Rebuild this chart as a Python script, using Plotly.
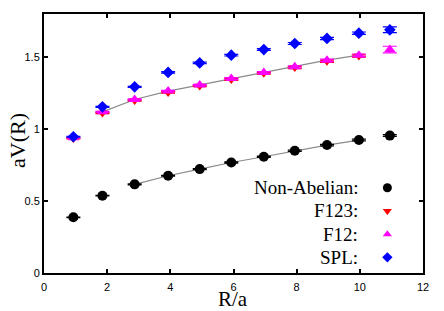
import plotly.graph_objects as go

# ---- data ----
R = [0.93, 1.85, 2.87, 3.93, 4.93, 5.93, 6.96, 7.94, 8.96, 9.97, 10.95]
V_nonabelian = [0.387, 0.537, 0.616, 0.676, 0.722, 0.768, 0.808, 0.850, 0.889, 0.924, 0.955]
V_F123 = [0.935, 1.112, 1.198, 1.255, 1.300, 1.345, 1.388, 1.428, 1.472, 1.508]
V_F12 = [0.940, 1.120, 1.206, 1.264, 1.306, 1.352, 1.394, 1.433, 1.479, 1.514, 1.553]
V_SPL = [0.947, 1.155, 1.294, 1.394, 1.460, 1.514, 1.553, 1.595, 1.630, 1.667, 1.690]
err_nonabelian = [0.002, 0.002, 0.003, 0.003, 0.003, 0.004, 0.004, 0.005, 0.005, 0.006, 0.006]
err_F123 = [0.003, 0.004, 0.004, 0.005, 0.005, 0.006, 0.006, 0.007, 0.008, 0.008]
err_F12 = [0.003, 0.004, 0.004, 0.005, 0.005, 0.006, 0.006, 0.007, 0.008, 0.008, 0.023]
err_SPL = [0.003, 0.004, 0.004, 0.005, 0.005, 0.006, 0.006, 0.007, 0.008, 0.008, 0.020]
fit_nonabelian_range = (2, 10)   # indices of points covered by the fit curve
fit_F12_range = (1, 10)
legend_names = ["Non-Abelian:", "F123:", "F12:", "SPL:"]
x_ticks = [0, 2, 4, 6, 8, 10, 12]
y_ticks = [0, 0.5, 1, 1.5]

SERIF = "Liberation Serif"
SANS = "Liberation Sans"
GRAY = "#8a8a8a"

styles = [
    dict(color="black", symbol="circle", size=10, key=9),
    dict(color="#ff0000", symbol="triangle-down", size=9, key=8),
    dict(color="#ff00ff", symbol="triangle-up", size=10, key=8),
    dict(color="#0000ff", symbol="diamond", size=9, key=8),
]

fig = go.Figure()

# fit curves (gray lines)
a, b = fit_nonabelian_range
fig.add_trace(go.Scatter(x=R[a:b], y=V_nonabelian[a:b], mode="lines",
                         line=dict(color=GRAY, width=1.2), showlegend=False, hoverinfo="skip"))
a, b = fit_F12_range
fig.add_trace(go.Scatter(x=R[a:b], y=V_F12[a:b], mode="lines",
                         line=dict(color=GRAY, width=1.2), showlegend=False, hoverinfo="skip"))

series = [(V_nonabelian, err_nonabelian), (V_F123, err_F123), (V_F12, err_F12), (V_SPL, err_SPL)]
for (vals, errs), st in zip(series, styles):
    fig.add_trace(go.Scatter(
        x=R[:len(vals)], y=vals, mode="markers",
        marker=dict(color=st["color"], symbol=st["symbol"], size=st["size"], line=dict(width=0)),
        error_y=dict(type="data", array=errs, color=st["color"], thickness=1.2, width=7),
        showlegend=False))

# custom legend: text on the left, symbol on the right
row_top = 0.329
row_step = 0.0895
key_x = 0.906
for i, (name, st) in enumerate(zip(legend_names, styles)):
    yy = row_top - i * row_step
    fig.add_trace(go.Scatter(x=[key_x], y=[yy], xaxis="x2", yaxis="y2", mode="markers",
                             marker=dict(color=st["color"], symbol=st["symbol"],
                                         size=st["key"], line=dict(width=0)),
                             showlegend=False, hoverinfo="skip"))
    fig.add_annotation(x=0.833, y=yy, xref="paper", yref="paper", text=name,
                       showarrow=False, xanchor="right", yanchor="middle",
                       font=dict(family=SERIF, size=19, color="black"))

# axis titles
fig.add_annotation(x=0, y=0.51, xref="paper", yref="paper", text="aV(R)", textangle=-90,
                   showarrow=False, xanchor="center", yanchor="middle", xshift=-26,
                   font=dict(family=SERIF, size=22, color="black"))
fig.add_annotation(x=0.498, y=0, xref="paper", yref="paper", text="R/a",
                   showarrow=False, xanchor="center", yanchor="middle", yshift=-26,
                   font=dict(family=SERIF, size=21, color="black"))

axis_common = dict(showgrid=False, zeroline=False, showline=True, linecolor="black",
                   linewidth=2, mirror="ticks", ticks="inside", ticklen=4, tickwidth=1.5,
                   tickcolor="black", tickfont=dict(family=SANS, size=11, color="black"))
fig.update_layout(
    width=444, height=311,
    margin=dict(l=44, r=21, t=14, b=38),
    paper_bgcolor="white", plot_bgcolor="white",
    xaxis=dict(range=[0, 12], tickvals=x_ticks, ticktext=[str(v) for v in x_ticks],
               ticklabelstandoff=3, **axis_common),
    yaxis=dict(range=[0, 1.8], tickvals=y_ticks, ticktext=["0", "0.5", "1", "1.5"], **axis_common),
    xaxis2=dict(range=[0, 1], overlaying="x", visible=False, fixedrange=True),
    yaxis2=dict(range=[0, 1], overlaying="y", visible=False, fixedrange=True),
    showlegend=False,
)

fig.write_html("out.html", config={"displayModeBar": False},
               post_script="document.body.style.margin='0';document.body.style.overflow='hidden';")
